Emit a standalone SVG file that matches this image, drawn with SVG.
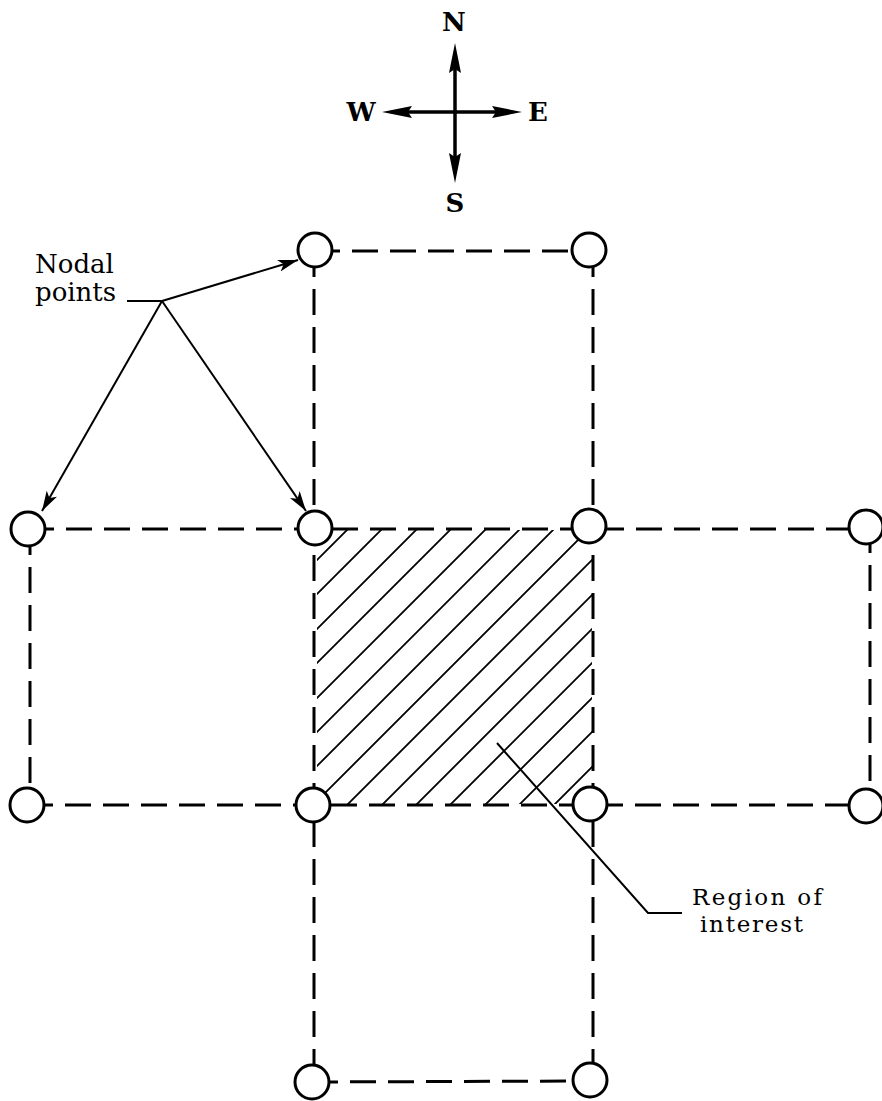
<svg xmlns="http://www.w3.org/2000/svg" width="882" height="1101" viewBox="0 0 882 1101">
<style>
.grid{stroke:#000;stroke-width:3;fill:none;stroke-dasharray:26 12}
.node{fill:#fff;stroke:#000;stroke-width:3}
.hatch{stroke:#000;stroke-width:1.8;fill:none}
.lead{stroke:#000;stroke-width:2;fill:none}
.lbl{font-family:"DejaVu Serif","Liberation Serif",serif;font-size:26px;fill:#000}
.lbl2{font-family:"DejaVu Serif","Liberation Serif",serif;font-size:23px;fill:#000}
.cmp{font-family:"DejaVu Serif","Liberation Serif",serif;font-size:26px;font-weight:bold;fill:#000;text-anchor:middle}
</style>
<defs>
<marker id="ah" viewBox="0 0 20 12" refX="20" refY="6" markerWidth="20" markerHeight="12" markerUnits="userSpaceOnUse" orient="auto">
<path d="M0,0 L20,6 L0,12 L5,6 Z" fill="#000"/>
</marker>
<clipPath id="roi"><rect x="317" y="530" width="275" height="274"/></clipPath>
</defs>
<g id="compass">
<line x1="455" y1="60" x2="455" y2="166" stroke="#000" stroke-width="3.5"/>
<line x1="398" y1="112" x2="506" y2="112" stroke="#000" stroke-width="3.5"/>
<polygon points="455,43 461,73 455,69 449,73" fill="#000"/>
<polygon points="455,183 461,153 455,157 449,153" fill="#000"/>
<polygon points="382,112 412,106 408,112 412,118" fill="#000"/>
<polygon points="522,112 492,106 496,112 492,118" fill="#000"/>
<text class="cmp" x="454" y="31">N</text>
<text class="cmp" x="455" y="212">S</text>
<text class="cmp" x="361" y="121">W</text>
<text class="cmp" x="538" y="121">E</text>
</g>
<g id="hatched-region" clip-path="url(#roi)">
<path class="hatch" d="M72 805L349 528M106 805L383 528M141 805L418 528M175 805L452 528M210 805L487 528M244 805L521 528M278 805L555 528M313 805L590 528M347 805L624 528M382 805L659 528M416 805L693 528M450 805L727 528M485 805L762 528M519 805L796 528M554 805L831 528"/>
</g>
<g id="connectors">
<line class="grid" x1="314" y1="251" x2="314" y2="1082"/>
<line class="grid" x1="593" y1="251" x2="593" y2="1081"/>
<line class="grid" x1="30" y1="529" x2="30" y2="805"/>
<line class="grid" x1="870" y1="527" x2="870" y2="806"/>
<line class="grid" x1="314" y1="251" x2="589" y2="251"/>
<line class="grid" x1="28" y1="529" x2="866" y2="529"/>
<line class="grid" x1="27" y1="805" x2="866" y2="805"/>
<line class="grid" x1="312" y1="1082" x2="590" y2="1081"/>
<polyline class="lead" points="127,301 162,301"/>
<line class="lead" x1="162" y1="301" x2="298" y2="260" marker-end="url(#ah)"/>
<line class="lead" x1="162" y1="301" x2="42" y2="511" marker-end="url(#ah)"/>
<line class="lead" x1="162" y1="301" x2="306" y2="511" marker-end="url(#ah)"/>
<polyline class="lead" points="497,743 648,913 682,913"/>
</g>
<g id="n1"><circle class="node" cx="315" cy="250" r="17"/></g>
<g id="n2"><circle class="node" cx="589" cy="250" r="17"/></g>
<g id="n3"><circle class="node" cx="28" cy="529" r="17"/></g>
<g id="n4"><circle class="node" cx="315" cy="528" r="17"/></g>
<g id="n5"><circle class="node" cx="589" cy="526" r="17"/></g>
<g id="n6"><circle class="node" cx="866" cy="527" r="17"/></g>
<g id="n7"><circle class="node" cx="27" cy="805" r="17"/></g>
<g id="n8"><circle class="node" cx="313" cy="805" r="17"/></g>
<g id="n9"><circle class="node" cx="590" cy="804" r="17"/></g>
<g id="n10"><circle class="node" cx="866" cy="806" r="17"/></g>
<g id="n11"><circle class="node" cx="312" cy="1082" r="17"/></g>
<g id="n12"><circle class="node" cx="590" cy="1080" r="17"/></g>
<g id="label-nodal">
<text class="lbl" x="35" y="273">Nodal</text>
<text class="lbl" x="35" y="301">points</text>
</g>
<g id="label-region">
<text class="lbl2" x="692" y="905" textLength="130" lengthAdjust="spacing">Region of</text>
<text class="lbl2" x="700" y="932" textLength="103" lengthAdjust="spacing">interest</text>
</g>
</svg>
